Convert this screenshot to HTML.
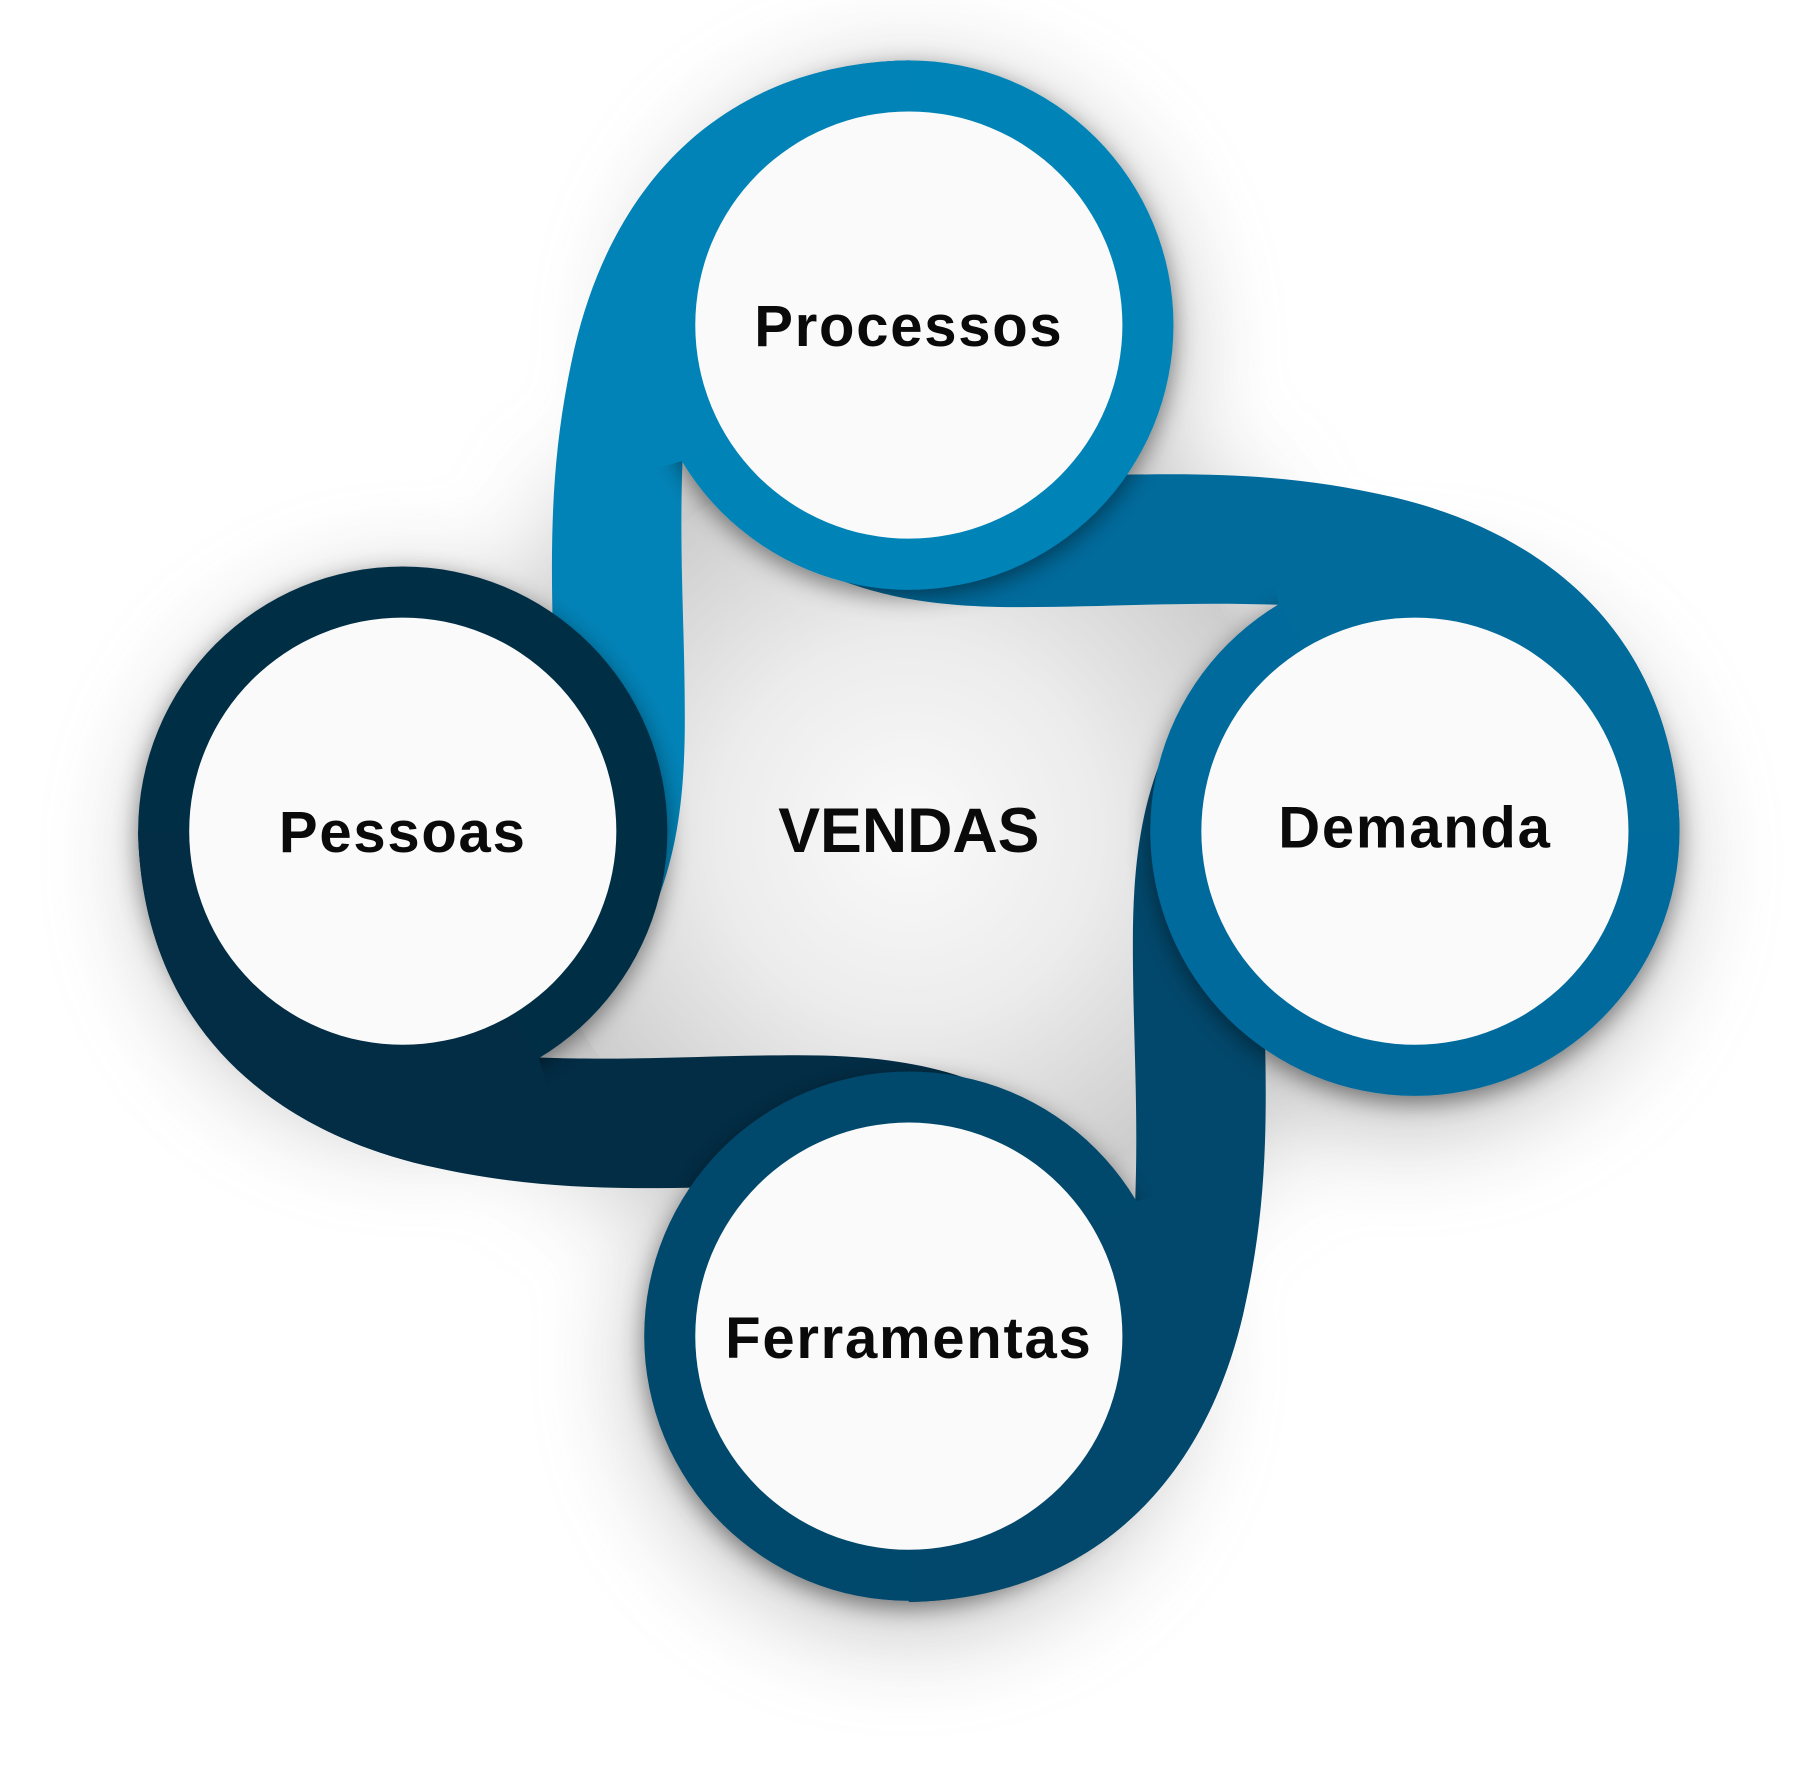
<!DOCTYPE html>
<html><head><meta charset="utf-8"><style>
html,body{margin:0;padding:0;background:#fff;}
svg{display:block;}
text{font-family:"Liberation Sans",sans-serif;font-weight:bold;fill:#0a0a0a;}
</style></head><body>
<svg width="1820" height="1768" viewBox="0 0 1568 1523" preserveAspectRatio="none">
<defs>
<filter id="bigsh" x="-30%" y="-30%" width="160%" height="160%"><feGaussianBlur stdDeviation="45"/></filter>
<filter id="rs" x="-30%" y="-30%" width="160%" height="160%"><feDropShadow dx="0" dy="6" stdDeviation="10" flood-color="#000" flood-opacity="0.45"/></filter>
<radialGradient id="center" cx="50%" cy="50%" r="50%">
<stop offset="0" stop-color="#fafafa"/><stop offset="0.5" stop-color="#ececec"/><stop offset="1" stop-color="#cdcdcd"/></radialGradient>
<path id="tail" d="M783,52 C630,55 530,150 495,300 C472,400 474,480 478,600 L520,760 L545,820 C580,760 590,700 590,620 C590,540 585,480 588,397 L700,300 Z"/>
<path id="tailTop" d="M783,52 C630,55 530,150 495,300 C485,350 480,385 478,430 L588,397 L783,280 Z"/>
</defs>
<g filter="url(#bigsh)" opacity="0.55">
<circle cx="783" cy="300" r="230" fill="#888"/>
<circle cx="360" cy="740" r="230" fill="#888"/>
<circle cx="1210" cy="740" r="230" fill="#888"/>
<circle cx="783" cy="1170" r="230" fill="#888"/>
<rect x="480" y="420" width="600" height="600" fill="#999"/>
</g>
<circle cx="783" cy="716" r="330" fill="url(#center)"/>
<!-- tails -->
<use href="#tail" fill="#0283b7"/>
<use href="#tail" fill="#016b9c" transform="rotate(90 783 716)"/>
<use href="#tail" fill="#02486c" transform="rotate(180 783 716)"/>
<use href="#tail" fill="#022d45" transform="rotate(270 783 716)"/>
<!-- rings -->
<circle cx="783" cy="280" r="228" fill="#0283b7" filter="url(#rs)"/>
<circle cx="1219" cy="716" r="228" fill="#016b9c" filter="url(#rs)"/>
<circle cx="783" cy="1151" r="228" fill="#02486c" filter="url(#rs)"/>
<circle cx="347" cy="716" r="228" fill="#022d45" filter="url(#rs)"/>
<use href="#tailTop" fill="#0283b7"/>
<use href="#tailTop" fill="#016b9c" transform="rotate(90 783 716)"/>
<use href="#tailTop" fill="#02486c" transform="rotate(180 783 716)"/>
<use href="#tailTop" fill="#022d45" transform="rotate(270 783 716)"/>
<!-- inner -->
<circle cx="783" cy="280" r="184" fill="#fafafa"/>
<circle cx="1219" cy="716" r="184" fill="#fafafa"/>
<circle cx="783" cy="1151" r="184" fill="#fafafa"/>
<circle cx="347" cy="716" r="184" fill="#fafafa"/>
<text x="783" y="298" font-size="50" text-anchor="middle" letter-spacing="1.5">Processos</text>
<text x="347" y="734" font-size="50" text-anchor="middle" letter-spacing="1.5">Pessoas</text>
<text x="1219" y="730" font-size="50" text-anchor="middle" letter-spacing="1.5">Demanda</text>
<text x="783" y="1170" font-size="50" text-anchor="middle" letter-spacing="1.5">Ferramentas</text>
<text x="783" y="734" font-size="54" text-anchor="middle">VENDAS</text>
</svg>
</body></html>
